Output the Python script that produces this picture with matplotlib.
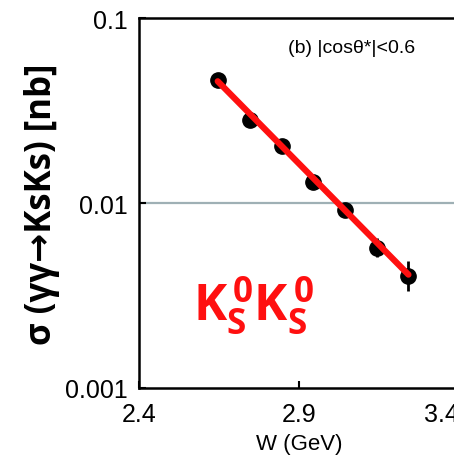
import matplotlib
matplotlib.use("Agg")
import matplotlib.pyplot as plt
import numpy as np

# measured cross sections
w_gev = [2.646, 2.747, 2.846, 2.945, 3.044, 3.143, 3.242]
sigma_nb = [0.0462, 0.0282, 0.0204, 0.0130, 0.00916, 0.00569, 0.00405]
sigma_lo = [0.0012, 0.0010, 0.0008, 0.0006, 0.0006, 0.0006, 0.0007]
sigma_hi = [0.0012, 0.0010, 0.0008, 0.0006, 0.0009, 0.0008, 0.0008]

# fitted line end points
fit_w = [2.646, 3.242]
fit_sigma = [0.0455, 0.0041]

plt.rcParams['font.family'] = ['Liberation Sans', 'DejaVu Sans']
plt.rcParams['mathtext.fontset'] = 'custom'
plt.rcParams['mathtext.bf'] = 'Open Sans:bold'
plt.rcParams['mathtext.rm'] = 'Open Sans'

fig = plt.figure(figsize=(4.54, 4.56), dpi=100)
ax = fig.add_axes([139/454, 1 - 389/456, 320/454, 370/456])

ax.axhline(0.01, color='#9fb0b5', lw=1.6, zorder=1)
ax.errorbar(w_gev, sigma_nb, yerr=[sigma_lo, sigma_hi], fmt='o', color='black',
            markersize=11, elinewidth=2, capsize=0, zorder=2)
ax.plot(fit_w, fit_sigma, color='#ff1010', lw=4.5, solid_capstyle='round', zorder=3)

ax.set_yscale('log')
ax.set_xlim(2.4, 3.4)
ax.set_ylim(0.001, 0.1)
ax.set_xticks([2.4, 2.9, 3.4])
ax.set_xticklabels(['2.4', '2.9', '3.4'])
ax.set_yticks([0.001, 0.01, 0.1])
ax.set_yticklabels(['0.001', '0.01', '0.1'])
ax.minorticks_off()
ax.tick_params(direction='in', length=5, width=1.5, labelsize=18, pad=8)
ax.tick_params(axis='x', pad=10)
ax.get_xticklabels()[-1].set_ha('right')
for s in ax.spines.values():
    s.set_linewidth(1.8)

ax.set_xlabel('W (GeV)', fontsize=16, labelpad=5)
ax.set_ylabel('σ (γγ→KsKs) [nb]', fontsize=25, fontweight='bold', labelpad=4,
              family=['Open Sans', 'DejaVu Sans'])

ax.text(0.663, 0.92, '(b) |cosθ*|<0.6', transform=ax.transAxes, fontsize=14,
        ha='center', va='center')
ax.text(0.356, 0.225, r'$\mathbf{K_S^{\,0}K_S^{\,0}}$', transform=ax.transAxes,
        fontsize=36, color='#ff1010', ha='center', va='center')

fig.savefig('out.png', dpi=100)
